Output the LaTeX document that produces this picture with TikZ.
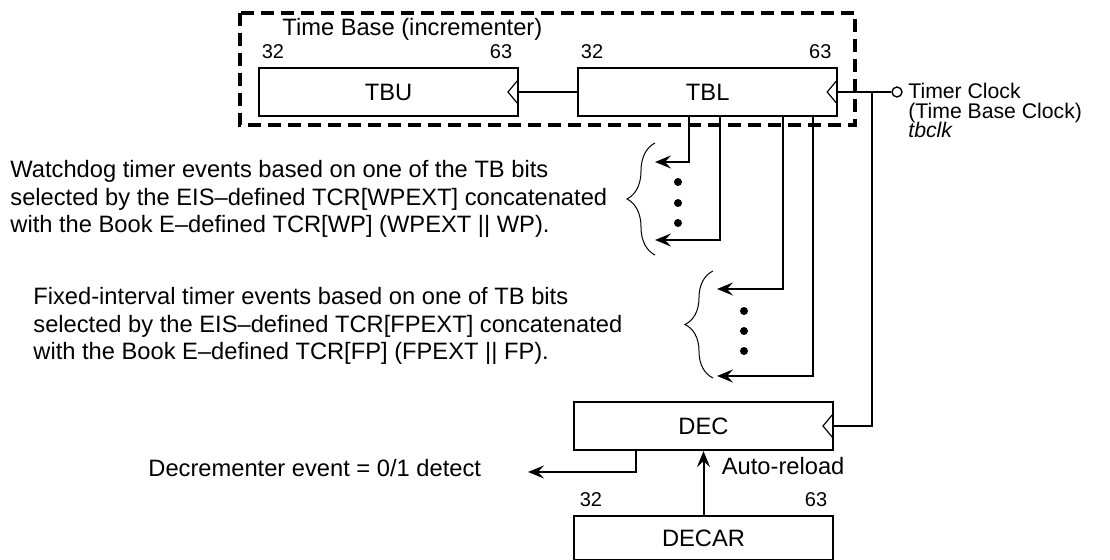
\documentclass[tikz,border=0pt]{standalone}
\usepackage{fontspec}
\setmainfont{Liberation Sans}
\usetikzlibrary{calc,arrows.meta,positioning,decorations.pathreplacing}
\newcommand\myFont{\fontsize{11.85}{13.75}\selectfont}
\newcommand\myClockFont{\fontsize{10.6}{9.8}\selectfont\lineskiplimit=-20pt\relax}
\tikzset{
myReg/.style={
	rectangle,draw,line width=1.1pt,
	minimum width=129.5pt,minimum height=24pt,
	inner sep=0pt,font=\myFont
}
, myClk/.style={
	path picture = {
		\draw[line width=0.6pt]
		($(path picture bounding box.east)+(0,-12)$) -- ++(-10,12) -- ++(10,12);
	}
}
, myPin/.style={
	circle,draw,line width=0.7pt,fill=white,
	minimum size=5pt,inner sep=0pt
}
, myFrame/.style={line width=1.6pt,dash pattern=on 6.5pt off 3.5pt}
, myBit/.style={font=\fontsize{10}{12}\selectfont,inner sep=0pt}
, myLabel/.style={font=\myFont,inner sep=0pt}
, myText/.style={font=\myFont,align=left,inner sep=0pt}
, myClock/.style={font=\myClockFont,align=left,inner sep=0pt}
% links
, myWire/.style={line width=1pt}
, mySig/.style={myWire,-{Stealth[length=8pt,width=6.5pt,inset=3pt]}}
, myBrace/.style={line width=0.5pt,decorate,decoration={brace,amplitude=14pt}}
}

\begin{document}
\begin{tikzpicture}[x=0.5pt,y=-0.5pt]
	\useasboundingbox (0,0) rectangle (1110,560);
	% registers
	\node[myReg,myClk] (TBU) at (388.5,92) {TBU};
	\node[myReg,myClk] (TBL) [right=29pt of TBU] {TBL};
	\node[myReg,myClk] (DEC) at (703.5,426) {DEC};
	\node[myReg,minimum height=22pt] (DECAR) [below=32pt of DEC] {DECAR};
	% bit numbers
	\node[myBit] at ($(TBU.north west)+(15,-15)$) {32};
	\node[myBit] at ($(TBU.north east)+(-18,-15)$) {63};
	\node[myBit] at ($(TBL.north west)+(15,-15)$) {32};
	\node[myBit] at ($(TBL.north east)+(-18,-15)$) {63};
	\node[myBit] at ($(DECAR.north west)+(18,-15)$) {32};
	\node[myBit] at ($(DECAR.north east)+(-18,-15)$) {63};
	% time base frame
	\draw[myFrame] (240,13) rectangle (855,125);
	\node[myLabel,anchor=west] (TBTitle) at (282,29) {Time Base (incrementer)};
	% timer clock
	\node[myPin] (Pin) at (897,92) {};
	\node[myClock,anchor=north west] (ClkTxt) at (908,83)
		{Timer Clock\\(Time Base Clock)\\\textit{tbclk}};
	\coordinate (Tap) at ($(TBL.east)+(34,0)$);
	\draw[myWire] (TBU.east) -- (TBL.west);
	\draw[myWire] (TBL.east) -- (Pin.west);
	\draw[myWire] (Tap) |- (DEC.east);
	% watchdog events
	\coordinate (WdA) at (655,162);
	\coordinate (WdB) at (655,240);
	\draw[mySig] ($(TBL.south west)+(112,0)$) |- (WdA);
	\draw[mySig] ($(TBL.south west)+(143,0)$) |- (WdB);
	\foreach \y in {182,203,223} \fill (678,\y) circle[radius=2pt];
	\draw[myBrace] (655,255) -- (655,143);
	\node[myText,anchor=west] (WdTxt) at (10,199)
		{Watchdog timer events based on one of the TB bits\\
		selected by the EIS–defined TCR[WPEXT] concatenated\\
		with the Book E–defined TCR[WP] (WPEXT || WP).};
	% fixed-interval events
	\coordinate (FiA) at (717,289);
	\coordinate (FiB) at (717,376);
	\draw[mySig] ($(TBL.south west)+(206,0)$) |- (FiA);
	\draw[mySig] ($(TBL.south west)+(236,0)$) |- (FiB);
	\foreach \y in {311,331,351} \fill (744,\y) circle[radius=2pt];
	\draw[myBrace] (713,378) -- (713,271);
	\node[myText,anchor=west] (FiTxt) at (33,326)
		{Fixed-interval timer events based on one of TB bits\\
		selected by the EIS–defined TCR[FPEXT] concatenated\\
		with the Book E–defined TCR[FP] (FPEXT || FP).};
	% decrementer
	\coordinate (DecOut) at (528,472);
	\draw[mySig] ($(DEC.south west)+(63,0)$) |- (DecOut);
	\node[myLabel,anchor=west] (DecTxt) at (148,468) {Decrementer event = 0/1 detect};
	\draw[mySig] (DECAR.north) -- (DEC.south);
	\node[myLabel,anchor=west] (Reload) at ($(DEC.south)+(18,15)$) {Auto-reload};
\end{tikzpicture}
\end{document}
